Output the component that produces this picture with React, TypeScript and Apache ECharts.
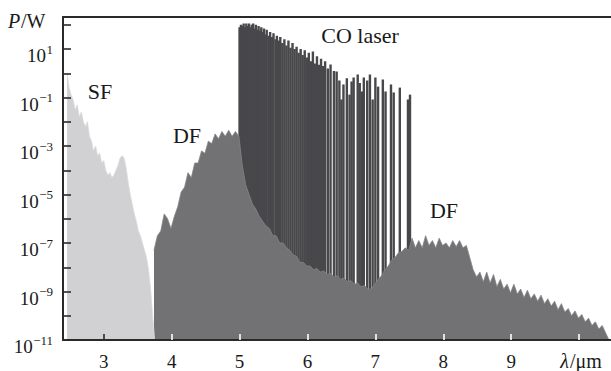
import React, { useEffect, useRef } from 'react';
import * as echarts from 'echarts';

// ---- axis ranges ----
const X_MIN = 2.4;
const X_MAX = 10.47;
const Y_MIN = 1e-11;
const Y_MAX = 210;

// ---- tick values ----
const xTickValues = [3, 4, 5, 6, 7, 8, 9, 10];
const xLabelValues = [3, 4, 5, 6, 7, 8, 9];
const xUnitLabel = ['λ', '/μm'];
const yTickExponents = [-11, -10, -9, -8, -7, -6, -5, -4, -3, -2, -1, 0, 1, 2];
const yLabelExponents = [-11, -9, -7, -5, -3, -1, 1];

// ---- SF spectrum: log10(P/W) sampled from 2.46 µm, step 0.03 µm ----
const sfStart = 2.46;
const sfStep = 0.03;
const sfLogP = [
  0.0, -0.6, -0.9, -1.1, -1.5, -1.3, -1.8, -1.6, -2.0, -2.2,
  -2.0, -2.6, -2.8, -3.2, -3.0, -3.4, -3.3, -3.7, -3.6, -4.0,
  -4.2, -4.1, -4.3, -4.2, -4.0, -3.8, -3.5, -3.4, -3.5, -3.9,
  -4.5, -5.0, -5.4, -5.8, -6.1, -6.5, -6.7, -7.0, -7.3, -7.6,
  -8.1, -8.9, -10.0, -11.0,
];

// ---- DF spectrum: log10(P/W) sampled from 3.74 µm, step 0.05 µm ----
const dfStart = 3.74;
const dfStep = 0.05;
const dfLogP = [
  -7.3, -6.7, -6.5, -5.8, -6.0, -6.4, -5.9, -5.5, -4.9, -4.7,
  -4.1, -4.3, -3.7, -3.7, -3.2, -3.3, -2.8, -2.9, -2.5, -2.7,
  -2.4, -2.6, -2.35, -2.6, -2.4, -2.6, -3.8, -4.6, -5.0, -5.4,
  -5.6, -5.9, -6.1, -6.3, -6.4, -6.7, -6.7, -7.0, -7.0, -7.2,
  -7.3, -7.5, -7.55, -7.8, -7.8, -7.95, -7.95, -8.1, -8.05, -8.2,
  -8.15, -8.3, -8.25, -8.4, -8.35, -8.5, -8.45, -8.6, -8.55, -8.7,
  -8.65, -8.8, -8.75, -8.9, -8.9, -8.7, -8.5, -8.35, -8.1, -7.95,
  -7.7, -7.6, -7.4, -7.35, -7.2, -7.3, -6.8, -7.2, -6.9, -7.2,
  -6.7, -7.1, -6.9, -7.2, -6.8, -7.1, -7.0, -7.2, -6.9, -7.15,
  -6.9, -7.2, -7.1, -7.6, -8.1, -8.4, -8.2, -8.6, -8.2, -8.65,
  -8.3, -8.8, -8.5, -8.9, -8.7, -9.05, -8.7, -9.1, -8.9, -9.25,
  -8.95, -9.3, -9.1, -9.4, -9.15, -9.5, -9.3, -9.6, -9.4, -9.75,
  -9.5, -9.85, -9.7, -10.0, -9.8, -10.1, -9.95, -10.25, -10.1, -10.4,
  -10.25, -10.55, -10.4, -10.7, -11.0,
];

// ---- CO laser lines: wavelength (µm) and log10(P/W) ----
const coLambda = [
  5.00, 5.02, 5.04, 5.06, 5.08, 5.10, 5.12, 5.14, 5.16, 5.18,
  5.20, 5.22, 5.24, 5.26, 5.28, 5.30, 5.32, 5.34, 5.36, 5.38,
  5.40, 5.43, 5.45, 5.48, 5.50, 5.53, 5.55, 5.58, 5.60, 5.63,
  5.66, 5.69, 5.72, 5.75, 5.78, 5.81, 5.84, 5.87, 5.90, 5.93,
  5.96, 5.99, 6.02, 6.05, 6.08, 6.11, 6.14, 6.17, 6.20, 6.23,
  6.26, 6.30, 6.34, 6.39, 6.43, 6.47, 6.50, 6.53, 6.58, 6.62,
  6.65, 6.68, 6.74, 6.77, 6.80, 6.83, 6.88, 6.92, 6.96, 7.00,
  7.04, 7.11, 7.15, 7.23, 7.27, 7.36, 7.48, 7.51,
];
const coLogP = [
  1.9, 2.0, 1.95, 2.05, 1.9, 2.05, 1.95, 2.05, 1.9, 2.0,
  2.05, 1.85, 2.0, 1.8, 1.95, 1.75, 1.9, 1.7, 1.85, 1.6,
  1.8, 1.55, 1.7, 1.5, 1.65, 1.4, 1.55, 1.35, 1.5, 1.25,
  1.4, 1.15, 1.35, 1.05, 1.25, 1.0, 1.1, 0.85, 1.0, 0.75,
  0.95, 0.65, 0.85, 0.5, 0.9, 0.4, 0.7, 0.35, 0.6, 0.3,
  0.5, 0.2, 0.36, 0.1, 0.07, -0.3, -1.08, -0.46, -0.2, -0.88,
  -0.34, -0.17, -0.05, -0.4, -0.75, -0.17, -0.3, -0.05, -1.08, -0.17,
  -0.55, -0.26, -0.75, -0.46, -0.79, -0.59, -1.08, -0.88,
];

// ---- annotations ----
const annotations = [
  { text: 'SF', x: 100, y: 91 },
  { text: 'DF', x: 187, y: 135 },
  { text: 'CO laser', x: 360, y: 35 },
  { text: 'DF', x: 444, y: 210 },
];

const SF_COLOR = '#d1d1d3';
const DF_COLOR = '#727275';
const DF_EDGE = '#858588';
const CO_COLOR = '#48484b';
const AXIS_COLOR = '#2a2a2a';
const TEXT_COLOR = '#1a1a1a';
const FONT = '"Liberation Serif"';

export default function App() {
  const ref = useRef<HTMLDivElement>(null);

  useEffect(() => {
    if (!ref.current) return;
    const chart = echarts.init(ref.current, undefined, { renderer: 'svg' });

    const sfData = sfLogP.map((e, i) => [sfStart + i * sfStep, Math.pow(10, e)]);
    const dfData = dfLogP.map((e, i) => [dfStart + i * dfStep, Math.pow(10, e)]);
    const coData = coLambda.map((x, i) => [x, Math.pow(10, coLogP[i])]);

    const option: any = {
      animation: false,
      grid: { left: 63, right: 0, top: 17, bottom: 31, containLabel: false },
      xAxis: [
        {
          type: 'value',
          position: 'bottom',
          min: X_MIN,
          max: X_MAX,
          z: 10,
          axisLine: { show: true, lineStyle: { color: AXIS_COLOR, width: 2 } },
          axisTick: {
            show: true,
            inside: true,
            length: 6,
            customValues: xTickValues.filter((v) => v !== 3),
            lineStyle: { color: '#ffffff', width: 1.6 },
          },
          axisLabel: { show: false },
          splitLine: { show: false },
        },
        {
          type: 'value',
          position: 'bottom',
          min: X_MIN,
          max: X_MAX,
          z: 11,
          axisLine: { show: false },
          axisTick: {
            show: true,
            inside: true,
            length: 6,
            customValues: [3],
            lineStyle: { color: AXIS_COLOR, width: 1.6 },
          },
          axisLabel: { show: false },
          splitLine: { show: false },
        },
        {
          type: 'value',
          position: 'top',
          min: X_MIN,
          max: X_MAX,
          z: 10,
          axisLine: { show: true, lineStyle: { color: AXIS_COLOR, width: 2 } },
          axisTick: { show: false },
          axisLabel: { show: false },
          splitLine: { show: false },
        },
      ],
      yAxis: {
        type: 'log',
        logBase: 10,
        min: Y_MIN,
        max: Y_MAX,
        z: 10,
        axisLine: { show: true, lineStyle: { color: AXIS_COLOR, width: 2 } },
        axisTick: {
          show: true,
          inside: true,
          length: 8,
          customValues: yTickExponents.map((e) => Math.pow(10, e)),
          lineStyle: { color: AXIS_COLOR, width: 1.6 },
        },
        axisLabel: { show: false },
        splitLine: { show: false },
      },
      series: [
        {
          type: 'custom',
          name: 'CO laser',
          z: 2,
          clip: true,
          data: coData,
          encode: { x: 0, y: 1 },
          renderItem: (params: any, api: any) => {
            const x = api.value(0);
            const top = api.coord([x, api.value(1)]);
            const base = api.coord([x, Y_MIN]);
            return {
              type: 'rect',
              shape: { x: top[0] - 1.2, y: top[1], width: 2.4, height: base[1] - top[1] },
              style: { fill: CO_COLOR },
            };
          },
        },
        {
          type: 'line',
          name: 'DF',
          z: 3,
          data: dfData,
          showSymbol: false,
          symbol: 'none',
          lineStyle: { color: DF_EDGE, width: 0.8 },
          areaStyle: { color: DF_COLOR, opacity: 1, origin: 'start' },
        },
        {
          type: 'line',
          name: 'SF',
          z: 3,
          data: sfData,
          showSymbol: false,
          symbol: 'none',
          lineStyle: { color: '#dadadc', width: 0.8 },
          areaStyle: { color: SF_COLOR, opacity: 1, origin: 'start' },
        },
      ],
    };

    chart.setOption(option);

    // ---- tick labels placed through the axes' own scales ----
    const ctx = document.createElement('canvas').getContext('2d') as CanvasRenderingContext2D;
    const measure = (text: string, font: string) => {
      ctx.font = font;
      return ctx.measureText(text).width;
    };
    const px = (v: number) => chart.convertToPixel({ xAxisIndex: 0 }, v) as number;
    const py = (v: number) => chart.convertToPixel({ yAxisIndex: 0 }, v) as number;
    const axisX = px(X_MIN);
    const axisY = py(Y_MIN);

    const txt = (text: string, x: number, y: number, font: string, align = 'center') => ({
      type: 'text',
      x,
      y,
      z: 20,
      silent: true,
      style: { text, align, verticalAlign: 'middle', fill: TEXT_COLOR, font },
    });

    const graphics: any[] = [];
    const labelFont = `19px ${FONT}`;
    const supFont = `13px ${FONT}`;

    xLabelValues.forEach((v) => {
      graphics.push(txt(String(v), px(v), axisY + 21, labelFont));
    });

    // unit label at the position of the last tick
    const unitFontI = `italic 20px ${FONT}`;
    const unitFontN = `20px ${FONT}`;
    const wI = measure(xUnitLabel[0], unitFontI);
    const wN = measure(xUnitLabel[1], unitFontN);
    const unitCenter = px(10) + 2;
    const unitLeft = unitCenter - (wI + wN + 1) / 2;
    graphics.push(txt(xUnitLabel[0], unitLeft, axisY + 21, unitFontI, 'left'));
    graphics.push(txt(xUnitLabel[1], unitLeft + wI + 1, axisY + 21, unitFontN, 'left'));

    const labelRight = axisX - 10;
    yLabelExponents.forEach((e) => {
      const y = py(Math.pow(10, e));
      const sup = (e < 0 ? '−' : '') + Math.abs(e);
      const wSup = measure(sup, supFont);
      graphics.push(txt(sup, labelRight, y, supFont, 'right'));
      graphics.push(txt('10', labelRight - wSup - 0.5, y + 6.5, labelFont, 'right'));
    });

    graphics.push(txt('P', 8, 21, `italic 20px ${FONT}`, 'left'));
    graphics.push(txt('/W', 21, 21, `20px ${FONT}`, 'left'));
    annotations.forEach((a) => graphics.push(txt(a.text, a.x, a.y, `22px ${FONT}`)));

    chart.setOption({ graphic: graphics });

    return () => chart.dispose();
  }, []);

  return <div ref={ref} style={{ width: 611, height: 371, position: 'absolute', left: 0, top: 0 }} />;
}
